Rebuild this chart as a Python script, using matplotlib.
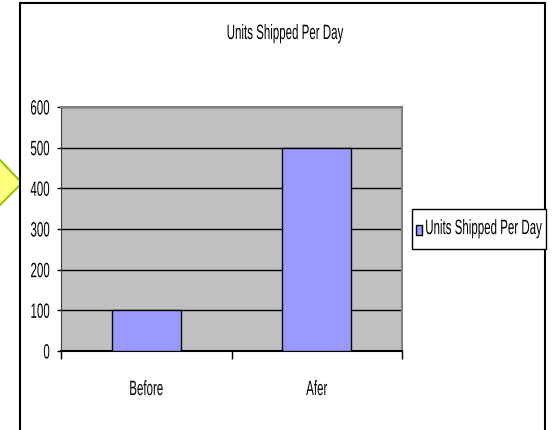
import matplotlib
matplotlib.use("Agg")
import matplotlib.pyplot as plt
from matplotlib import font_manager as fm
from matplotlib import patheffects
from matplotlib.patches import Polygon, Rectangle
from matplotlib.transforms import Affine2D, ScaledTranslation

categories = ["Before", "Afer"]
units_shipped = [100, 500]
y_ticks = [0, 100, 200, 300, 400, 500, 600]
series_name = "Units Shipped Per Day"

W, H = 552, 431

names = {f.name for f in fm.fontManager.ttflist}
fam = "Liberation Sans" if "Liberation Sans" in names else "DejaVu Sans"
plt.rcParams["font.family"] = [fam, "DejaVu Sans"]
plt.rcParams["font.size"] = 8.3


class StretchY(patheffects.AbstractPathEffect):
    """Draw text taller than wide, stretched up from its baseline."""

    def __init__(self, sy):
        super().__init__()
        self.sy = sy

    def draw_path(self, renderer, gc, tpath, affine, rgbFace=None):
        renderer.draw_path(gc, tpath, Affine2D().scale(1, self.sy) + affine, rgbFace)


tall = [StretchY(1.8)]


def fx(px):
    return px / W


def fy(py):
    return 1 - py / H


fig = plt.figure(figsize=(W / 100, H / 100), dpi=100)
fig.patch.set_facecolor("white")

# yellow callout arrow poking in from the left
arrow = Polygon([(fx(-2), fy(159)), (fx(22), fy(184)), (fx(-2), fy(208))],
                closed=True, transform=fig.transFigure,
                facecolor="#FFFF80", edgecolor="#99C400", lw=1.5, zorder=1)
fig.add_artist(arrow)

# chart border
border = Rectangle((fx(20), fy(440)), fx(545) - fx(20), fy(4) - fy(440),
                   transform=fig.transFigure, facecolor="white",
                   edgecolor="black", lw=1.5, zorder=2)
fig.add_artist(border)

ax = fig.add_axes([fx(61), fy(352), fx(402) - fx(61), fy(108) - fy(352)], zorder=3)
ax.set_facecolor("#C0C0C0")

x = list(range(len(categories)))
bars = ax.bar(x, units_shipped, width=0.405, color="#9999FF",
              edgecolor="black", lw=1, zorder=3, label=series_name)

ax.set_xlim(-0.5, len(categories) - 0.5)
ax.set_ylim(0, 600)
ax.set_yticks(y_ticks)
ax.yaxis.grid(True, color="black", lw=1)
ax.set_axisbelow(True)

ax.set_xticks(x)
ax.set_xticklabels(categories)
ax.set_xticks([i - 0.5 for i in range(len(categories) + 1)], minor=True)
ax.tick_params(axis="x", which="major", length=0, pad=31.7)
ax.tick_params(axis="x", which="minor", length=6, width=1, direction="out", color="black")
ax.tick_params(axis="y", length=3, width=1, direction="out", pad=5, color="black")

down = ScaledTranslation(0, -7.5 / 100, fig.dpi_scale_trans)
for lbl in ax.get_yticklabels():
    lbl.set_va("baseline")
    lbl.set_transform(lbl.get_transform() + down)
    lbl.set_path_effects(tall)
for lbl in ax.get_xticklabels():
    lbl.set_va("baseline")
    lbl.set_path_effects(tall)

for side in ("top", "right"):
    ax.spines[side].set_color("#808080")
    ax.spines[side].set_linewidth(1.5)
ax.spines["left"].set_color("#404040")
ax.spines["bottom"].set_color("black")
ax.spines["bottom"].set_linewidth(1.5)

fig.text(fx(285), fy(40), series_name, ha="center", va="baseline",
         zorder=4, path_effects=tall)

# legend with a square frame
frame = Rectangle((fx(412), fy(250)), fx(546) - fx(412), fy(210) - fy(250),
                  transform=fig.transFigure, facecolor="white",
                  edgecolor="black", lw=1, zorder=4)
fig.add_artist(frame)
leg = fig.legend(handles=[bars], labels=[series_name], loc="center left",
                 bbox_to_anchor=(fx(416), fy(232)), frameon=False,
                 handlelength=0.5, handleheight=1.0, handletextpad=0.3,
                 borderpad=0, borderaxespad=0)
leg.set_zorder(5)
for t in leg.get_texts():
    t.set_path_effects(tall)

fig.savefig("out.png", dpi=100)
